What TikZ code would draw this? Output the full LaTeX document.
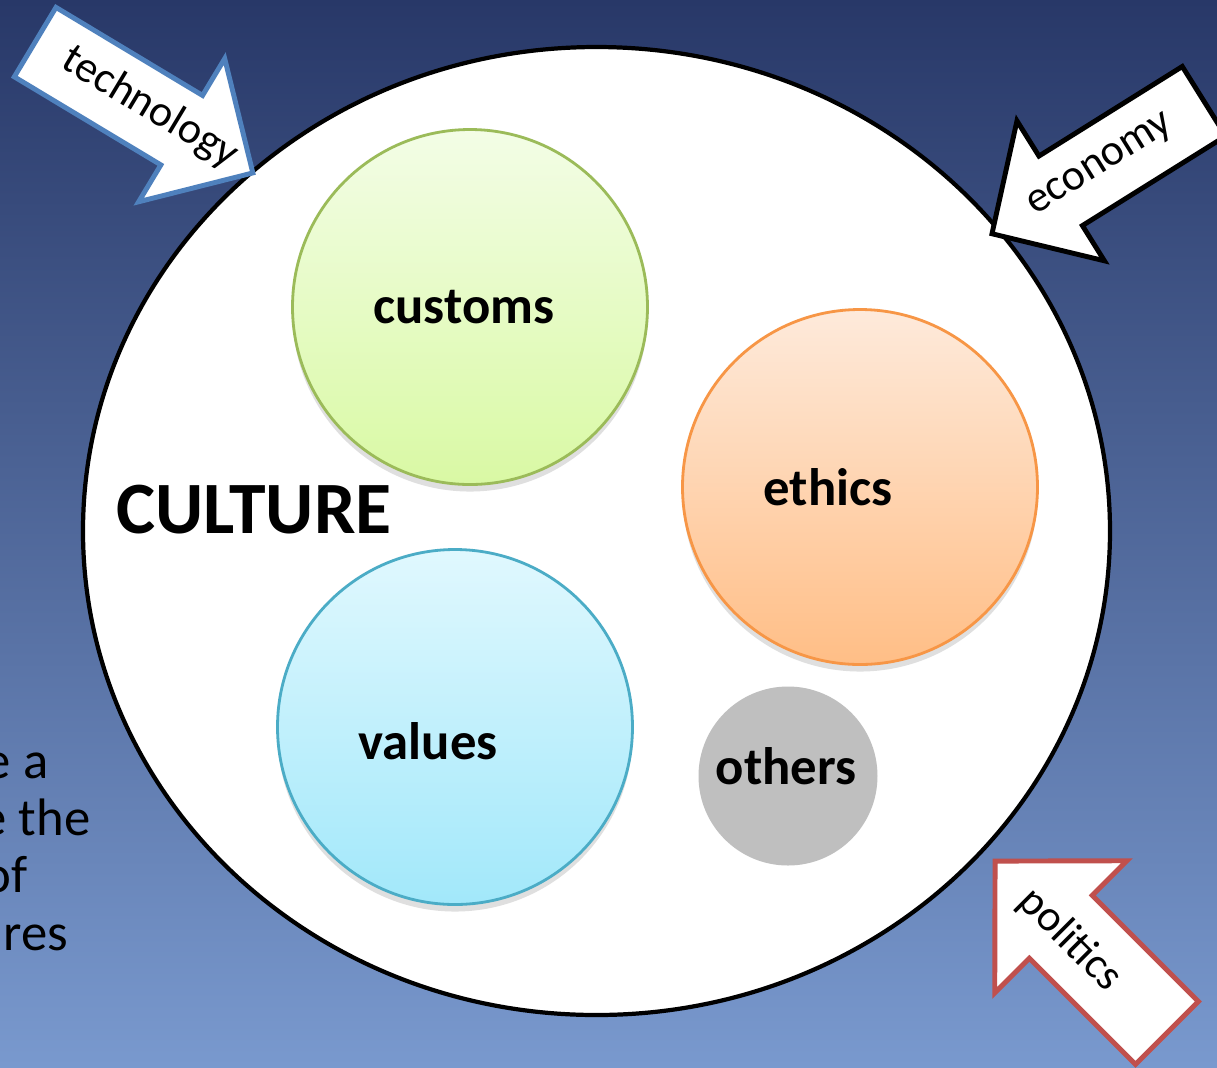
\documentclass[tikz,border=0pt]{standalone}
\usepackage{fontspec}
\setmainfont{Carlito}
\usepackage{xcolor}
\usepackage{tikz}
\usetikzlibrary{shapes.geometric, shadows, calc}

\definecolor{bgtop}{RGB}{40,56,104}
\definecolor{bgbot}{RGB}{121,153,206}
\definecolor{techblue}{RGB}{79,129,189}
\definecolor{polired}{RGB}{192,80,77}
\definecolor{greenline}{RGB}{155,187,89}
\definecolor{greentop}{RGB}{243,253,230}
\definecolor{greenbot}{RGB}{217,249,164}
\definecolor{orangeline}{RGB}{247,150,70}
\definecolor{orangetop}{RGB}{254,234,219}
\definecolor{orangebot}{RGB}{255,190,134}
\definecolor{cyanline}{RGB}{75,172,198}
\definecolor{cyantop}{RGB}{224,248,254}
\definecolor{cyanbot}{RGB}{162,232,250}
\definecolor{othergray}{RGB}{191,191,191}

\tikzset{
  bubble/.style={circle, minimum size=3.55cm, inner sep=0pt, line width=0.8pt,
    drop shadow={shadow xshift=0pt, shadow yshift=-2pt, opacity=0.25}},
  bubbletext/.style={font=\fontsize{15}{18}\selectfont\bfseries},
  arrowbox/.style={fill=white, line width=1.4pt, line join=miter},
  arrowtext/.style={font=\fontsize{12.5}{15}\selectfont, inner sep=0pt},
  sidetext/.style={font=\fontsize{15}{18}\selectfont, inner sep=0pt, anchor=base east},
  pics/blockarrow/.style args={#1/#2/#3/#4}{code={
    \draw[pic actions] (-#1/2,#2) -- (#1/2-#4,#2) -- (#1/2-#4,#3) -- (#1/2,0)
      -- (#1/2-#4,-#3) -- (#1/2-#4,-#2) -- (-#1/2,-#2) -- cycle;
  }}
}

\begin{document}
\begin{tikzpicture}
    \useasboundingbox (0,0) rectangle (12.17,-10.67);
    \clip (0,0) rectangle (12.17,-10.67);
    \shade[top color=bgtop, bottom color=bgbot] (0,0) rectangle (12.17,-10.67);

    % text running in from the left edge
    \node[sidetext] (line1) at (0.49,-7.78) {e a};
    \node[sidetext] (line2) at (0.91,-8.35) {e the};
    \node[sidetext] (line3) at (0.28,-8.92) {of};
    \node[sidetext] (line4) at (0.69,-9.50) {res};

    \node[ellipse, draw=black, fill=white, line width=1.2pt, minimum width=10.27cm, minimum height=9.68cm] (culture) at (5.965,-5.31) {};
    \node[font=\fontsize{21}{25}\selectfont\bfseries] (culturelbl) at (2.54,-5.10) {CULTURE};

    \node[bubble, draw=greenline, top color=greentop, bottom color=greenbot] (customs) at (4.70,-3.07) {};
    \node[bubble, draw=orangeline, top color=orangetop, bottom color=orangebot] (ethics) at (8.60,-4.87) {};
    \node[bubble, draw=cyanline, top color=cyantop, bottom color=cyanbot] (values) at (4.55,-7.27) {};
    \node[circle, minimum size=1.79cm, inner sep=0pt, fill=othergray] (others) at (7.88,-7.76) {};

    \node[bubbletext] (customslbl) at ([xshift=-0.06cm]customs.center) {customs};
    \node[bubbletext] (ethicslbl) at ([xshift=-0.32cm]ethics.center) {ethics};
    \node[bubbletext] (valueslbl) at ([xshift=-0.27cm, yshift=-0.14cm]values.center) {values};
    \node[bubbletext] (otherslbl) at ([xshift=-0.02cm, yshift=0.10cm]others.center) {others};

    % forces pushing on the culture
    \pic[arrowbox, draw=techblue, rotate=-31] at (1.44,-1.075) {blockarrow={2.54/0.405/0.835/0.83}};
    \pic[arrowbox, draw=black, rotate=212] at (10.98,-1.675) {blockarrow={2.50/0.41/0.825/0.81}};
    \pic[arrowbox, draw=polired, rotate=135] at (10.81,-9.47) {blockarrow={2.43/0.445/0.935/0.93}};

    \node[arrowtext, rotate=-31] (techlbl) at (1.50,-1.08) {technology};
    \node[arrowtext, rotate=32] (econlbl) at (11.01,-1.66) {economy};
    \node[arrowtext, rotate=-45] (polilbl) at (10.70,-9.40) {politics};
\end{tikzpicture}
\end{document}
